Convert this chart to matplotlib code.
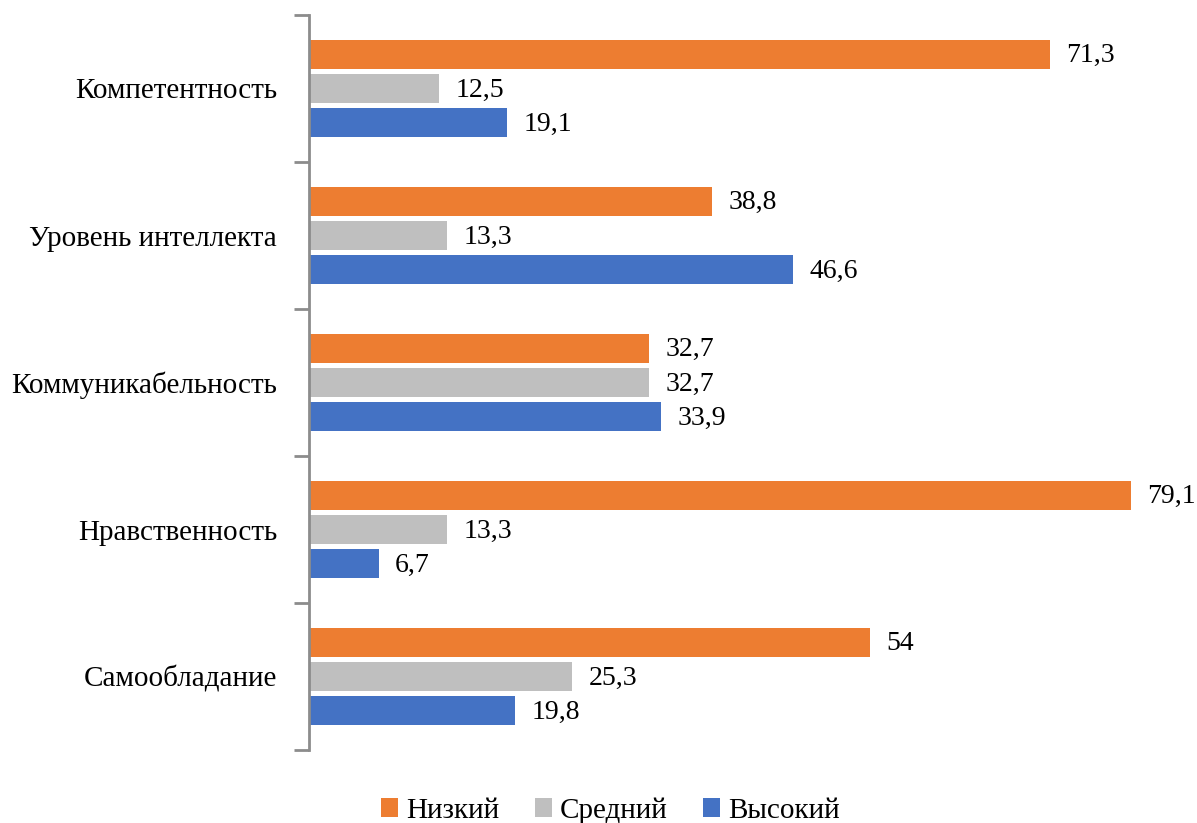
import numpy as np
import matplotlib
matplotlib.use('Agg')
from matplotlib import pyplot as plt

categories = ['Компетентность', 'Уровень интеллекта', 'Коммуникабельность',
              'Нравственность', 'Самообладание']
series_names = ['Низкий', 'Средний', 'Высокий']
low = [71.3, 38.8, 32.7, 79.1, 54]
mid = [12.5, 13.3, 32.7, 13.3, 25.3]
high = [19.1, 46.6, 33.9, 6.7, 19.8]
colors = ['#ED7D31', '#BFBFBF', '#4472C4']

plt.rcParams['font.family'] = ['Liberation Serif', 'DejaVu Serif']

fig = plt.figure(figsize=(11.97, 8.23), dpi=100)
ax = fig.add_axes([309/1197, 1 - 750/823, (1192 - 309)/1197, (750 - 15)/823])

y = np.arange(len(categories))
offsets = [-0.232, 0, 0.232]
for vals, off, col, name in zip([low, mid, high], offsets, colors, series_names):
    bars = ax.barh(y + off, vals, height=0.195, color=col, label=name)
    for b, v in zip(bars, vals):
        txt = ('%g' % v).replace('.', ',')
        ax.text(b.get_width() + 1.6, b.get_y() + b.get_height()/2 + 0.01, txt,
                va='center', ha='left', fontsize=20, color='#000000')

ax.set_xlim(0, 85)
ax.set_ylim(len(categories) - 0.5, -0.5)
ax.set_yticks(y)
ax.set_yticklabels(categories, fontsize=21)
ax.tick_params(axis='y', which='major', length=0, pad=23)
ax.set_yticks(np.arange(-0.5, len(categories)), minor=True)
ax.tick_params(axis='y', which='minor', length=11, width=2, color='#8C8C8C')
ax.set_xticks([])
for s in ['top', 'right', 'bottom']:
    ax.spines[s].set_visible(False)
ax.spines['left'].set_color('#8C8C8C')
ax.spines['left'].set_linewidth(2)

fig.legend(loc='lower center', bbox_to_anchor=(0.51, -0.033), ncol=3, frameon=False,
           fontsize=21, handlelength=0.6, handleheight=0.6, columnspacing=1.2,
           handletextpad=0.28)

fig.savefig('out.png', dpi=100)
